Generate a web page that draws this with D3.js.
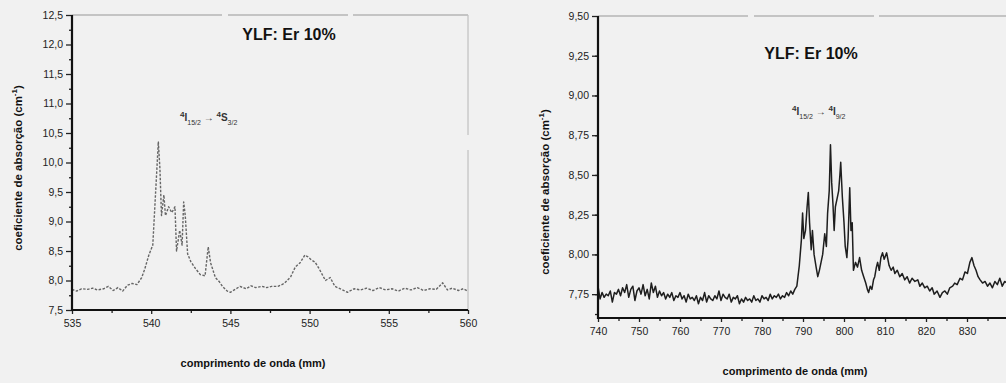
<!DOCTYPE html>
<html>
<head>
<meta charset="utf-8">
<script src="https://cdn.jsdelivr.net/npm/d3@7"></script>
<style>
  html, body { margin: 0; padding: 0; background: #f1f1f1; }
  svg { display: block; }
  text { font-family: "Liberation Sans", Arial, sans-serif; }
</style>
</head>
<body>
<svg id="chart" width="1006" height="383"></svg>
<script>
// ---------- DATA ----------
const title = "YLF: Er 10%";
const yLabel = "coeficiente de absorção (cm";
const xLabel = "comprimento de onda (mm)";

// Left panel: visible (green) region
const leftWavelength = [535.0,535.3,535.6,536.0,536.3,536.6,537.0,537.3,537.6,537.9,538.2,538.5,538.8,539.1,539.4,539.6,539.85,540.1,540.3,540.45,540.55,540.65,540.8,540.9,541.1,541.3,541.5,541.6,541.8,541.95,542.05,542.15,542.3,542.5,542.8,543.1,543.4,543.6,543.75,544.05,544.3,544.5,544.8,545.0,545.3,545.6,546.0,546.3,546.6,547.0,547.3,547.6,548.0,548.4,548.8,549.1,549.4,549.7,549.9,550.1,550.35,550.6,551.0,551.3,551.6,552.0,552.4,552.8,553.2,553.6,554.0,554.4,554.8,555.2,555.6,556.0,556.4,556.8,557.2,557.6,558.0,558.4,558.7,559.0,559.4,559.7,560.0];
const leftAbsorption = [7.85,7.82,7.86,7.85,7.87,7.84,7.86,7.90,7.83,7.88,7.82,7.92,7.95,7.93,8.05,8.20,8.43,8.60,9.60,10.35,9.90,9.10,9.45,9.10,9.25,9.15,9.25,8.50,8.85,8.60,9.33,9.10,8.45,8.32,8.20,8.10,8.08,8.57,8.30,8.05,7.98,7.90,7.82,7.80,7.85,7.90,7.86,7.91,7.88,7.90,7.88,7.90,7.90,7.95,8.06,8.23,8.30,8.43,8.40,8.35,8.31,8.20,8.00,8.05,7.90,7.85,7.80,7.86,7.84,7.87,7.83,7.88,7.84,7.86,7.82,7.87,7.84,7.88,7.83,7.86,7.85,7.96,7.84,7.87,7.83,7.86,7.82];
const leftXTicks = [535,540,545,550,555,560];
const leftYTicks = [7.5,8.0,8.5,9.0,9.5,10.0,10.5,11.0,11.5,12.0,12.5];

// Right panel: near-infrared region
const rightWavelength = [740,740.5,741,741.5,742,742.5,743,743.5,744,744.5,745,745.5,746,746.5,747,747.5,748,748.5,749,749.5,750,750.5,751,751.5,752,752.5,753,753.5,754,754.5,755,755.5,756,756.5,757,757.5,758,758.5,759,759.5,760,760.5,761,761.5,762,762.5,763,763.5,764,764.5,765,765.5,766,766.5,767,767.5,768,768.5,769,769.5,770,770.5,771,771.5,772,772.5,773,773.5,774,774.5,775,775.5,776,776.5,777,777.5,778,778.5,779,779.5,780,780.5,781,781.5,782,782.5,783,783.5,784,784.5,785,785.5,786,786.5,787,787.5,788,788.5,789.1,789.6,789.9,790.2,790.6,791.0,791.3,791.6,792.0,792.3,792.7,793.2,793.6,794.0,794.4,794.8,795.3,795.7,796.0,796.4,796.7,797.0,797.3,797.6,797.9,798.3,798.7,799.0,799.2,799.6,800.0,800.3,800.7,801.0,801.4,801.7,802.0,802.3,802.8,803.3,803.8,804.3,804.8,805.3,805.7,806.0,806.4,806.8,807.2,807.5,807.9,808.2,808.6,809.0,809.4,809.8,810.4,811.0,811.5,812.0,812.4,813.0,813.6,814.2,814.8,815.4,816.0,816.6,817.3,818.0,818.5,819.1,819.7,820.3,820.9,821.5,822.0,822.7,823.4,824.0,824.6,825.2,825.8,826.5,827.0,827.6,828.3,828.9,829.5,830.1,830.7,831.2,831.7,832.2,832.7,833.2,833.8,834.4,835.0,835.6,836.2,836.8,837.4,838.0,838.6,839.2,839.8];
const rightAbsorption = [7.80,7.72,7.76,7.73,7.75,7.74,7.77,7.70,7.76,7.75,7.78,7.74,7.79,7.76,7.81,7.73,7.78,7.80,7.71,7.77,7.79,7.75,7.81,7.74,7.78,7.72,7.82,7.76,7.80,7.73,7.77,7.74,7.76,7.72,7.75,7.73,7.76,7.71,7.74,7.73,7.76,7.72,7.74,7.70,7.75,7.72,7.73,7.71,7.74,7.69,7.73,7.71,7.76,7.70,7.74,7.72,7.71,7.74,7.72,7.77,7.71,7.75,7.73,7.72,7.75,7.70,7.73,7.72,7.74,7.69,7.72,7.70,7.73,7.71,7.72,7.70,7.74,7.71,7.72,7.70,7.74,7.72,7.73,7.71,7.75,7.72,7.74,7.73,7.75,7.72,7.74,7.73,7.76,7.74,7.77,7.75,7.78,7.80,7.93,8.09,8.26,8.10,8.15,8.30,8.39,8.20,8.03,8.15,8.00,7.92,7.86,7.90,7.95,8.00,8.13,8.05,8.26,8.40,8.69,8.45,8.32,8.15,8.30,8.35,8.40,8.50,8.58,8.36,8.20,8.05,7.98,8.10,8.42,8.15,8.20,7.90,7.95,7.92,7.98,7.90,7.86,7.82,7.78,7.76,7.80,7.78,7.84,7.86,7.92,7.95,7.90,7.98,8.01,7.97,8.01,7.93,7.90,7.92,7.88,7.90,7.86,7.88,7.84,7.86,7.82,7.85,7.83,7.84,7.80,7.82,7.79,7.80,7.77,7.79,7.75,7.77,7.73,7.76,7.77,7.75,7.79,7.80,7.82,7.81,7.85,7.84,7.89,7.88,7.95,7.98,7.93,7.90,7.86,7.84,7.82,7.83,7.80,7.82,7.79,7.83,7.81,7.85,7.80,7.83,7.82];
const rightXTicks = [740,750,760,770,780,790,800,810,820,830];
const rightYTicks = [7.75,8.00,8.25,8.50,8.75,9.00,9.25,9.50];

// ---------- DRAW ----------
const svg = d3.select("#chart");
const commaFmt = d => d3.format(".1f")(d).replace(".", ",");
const comma2Fmt = d => d3.format(".2f")(d).replace(".", ",");

function panel(cfg) {
  const g = svg.append("g");
  const x = d3.scaleLinear().domain(cfg.xDomain).range([cfg.left, cfg.right]);
  const y = d3.scaleLinear().domain(cfg.yDomain).range([cfg.bottom, cfg.top]);

  // frame top/right (faint)
  g.append("line").attr("x1", cfg.left).attr("x2", cfg.right).attr("y1", cfg.top).attr("y2", cfg.top)
    .attr("stroke", "#b5b5b5").attr("stroke-width", 1.3).attr("stroke-dasharray", "150,6,120,5,200");
  g.append("line").attr("x1", cfg.right).attr("x2", cfg.right).attr("y1", cfg.top).attr("y2", cfg.bottom)
    .attr("stroke", "#c0c0c0").attr("stroke-width", 1.2).attr("stroke-dasharray", "120,15,300");

  // minor ticks
  g.append("g").attr("transform", `translate(0,${cfg.bottom})`)
    .call(d3.axisBottom(x).tickValues(cfg.xMinor).tickSize(3).tickFormat(""))
    .call(s => s.select(".domain").remove())
    .selectAll("line").attr("stroke", "#222").attr("stroke-width", 1.3);
  g.append("g").attr("transform", `translate(${cfg.left},0)`)
    .call(d3.axisLeft(y).tickValues(cfg.yMinor).tickSize(3).tickFormat(""))
    .call(s => s.select(".domain").remove())
    .selectAll("line").attr("stroke", "#222").attr("stroke-width", 1.3);

  // major ticks
  const xa = g.append("g").attr("transform", `translate(0,${cfg.bottom})`)
    .call(d3.axisBottom(x).tickValues(cfg.xTicks).tickSize(4).tickPadding(6).tickFormat(d3.format("d")));
  xa.select(".domain").remove();
  xa.selectAll("line").attr("stroke", "#222").attr("stroke-width", 1.3);
  xa.selectAll("text").attr("font-size", 10.5).attr("fill", "#222").attr("font-family", "Liberation Sans, Arial, sans-serif");

  const ya = g.append("g").attr("transform", `translate(${cfg.left},0)`)
    .call(d3.axisLeft(y).tickValues(cfg.yTicks).tickSize(6).tickPadding(3).tickFormat(cfg.yFmt));
  ya.select(".domain").remove();
  ya.selectAll("line").attr("stroke", "#222").attr("stroke-width", 1.3);
  ya.selectAll("text").attr("font-size", 10.5).attr("fill", "#222").attr("font-family", "Liberation Sans, Arial, sans-serif");

  // data line
  const pts = cfg.xs.map((v, i) => [v, cfg.ys[i]]);
  g.append("path").datum(pts)
    .attr("fill", "none")
    .attr("stroke", cfg.lineColor)
    .attr("stroke-width", cfg.lineWidth)
    .attr("stroke-dasharray", cfg.dash || null)
    .attr("stroke-linejoin", "round")
    .attr("d", d3.line().x(d => x(d[0])).y(d => y(d[1])));

  // axis lines (thick)
  g.append("line").attr("x1", cfg.left).attr("x2", cfg.left).attr("y1", cfg.top).attr("y2", cfg.bottom + 1)
    .attr("stroke", "#111").attr("stroke-width", 2.2);
  g.append("line").attr("x1", cfg.left - 1).attr("x2", cfg.right).attr("y1", cfg.bottom).attr("y2", cfg.bottom)
    .attr("stroke", "#111").attr("stroke-width", 2.2);

  // title
  g.append("text").attr("x", cfg.titleX).attr("y", cfg.titleY).attr("text-anchor", "middle")
    .attr("font-size", 16).attr("font-weight", "bold").attr("fill", "#111").text(title);

  // axis labels
  g.append("text").attr("x", cfg.xLabelX).attr("y", cfg.xLabelY).attr("text-anchor", "middle")
    .attr("font-size", 11).attr("font-weight", "bold").attr("fill", "#111").text(xLabel);
  const yl = g.append("text")
    .attr("transform", `translate(${cfg.yLabelX},${cfg.yLabelY}) rotate(-90)`)
    .attr("text-anchor", "middle").attr("font-size", 11.5).attr("font-weight", "bold").attr("fill", "#111");
  yl.append("tspan").text(yLabel);
  yl.append("tspan").attr("dy", -5).attr("font-size", 8).text("-1");
  yl.append("tspan").attr("dy", 5).text(")");

  // transition annotation
  const an = g.append("text").attr("x", cfg.annX).attr("y", cfg.annY)
    .attr("font-size", 10).attr("fill", "#333").attr("font-weight", "bold");
  an.append("tspan").attr("font-size", 8).attr("dy", -4).text("4");
  an.append("tspan").attr("dy", 4).text("I");
  an.append("tspan").attr("font-size", 7).attr("dy", 4).attr("font-weight", "normal").text("15/2");
  an.append("tspan").attr("dy", -4).text(" \u2192 ");
  an.append("tspan").attr("font-size", 8).attr("dy", -4).text("4");
  an.append("tspan").attr("dy", 4).text(cfg.annLevel);
  an.append("tspan").attr("font-size", 7).attr("dy", 4).attr("font-weight", "normal").text(cfg.annSub);
}

panel({
  xDomain: [535, 560], yDomain: [7.5, 12.5],
  left: 72, right: 468, top: 15, bottom: 310,
  xTicks: leftXTicks, yTicks: leftYTicks,
  xMinor: [537.5, 542.5, 547.5, 552.5, 557.5],
  yMinor: d3.range(7.75, 12.5, 0.5),
  yFmt: commaFmt,
  xs: leftWavelength, ys: leftAbsorption,
  lineColor: "#666", lineWidth: 1.4, dash: "2.5,1.5",
  titleX: 289, titleY: 40,
  xLabelX: 253, xLabelY: 367,
  yLabelX: 22, yLabelY: 168,
  annX: 180, annY: 121, annLevel: "S", annSub: "3/2"
});

panel({
  xDomain: [740, 840], yDomain: [7.6, 9.5],
  left: 598, right: 1008, top: 16, bottom: 318,
  xTicks: rightXTicks, yTicks: rightYTicks,
  xMinor: [745, 755, 765, 775, 785, 795, 805, 815, 825, 835],
  yMinor: d3.range(7.625, 9.5, 0.125).filter((d, i) => i % 2 === 1).concat([7.625]),
  yFmt: comma2Fmt,
  xs: rightWavelength, ys: rightAbsorption,
  lineColor: "#1e1e1e", lineWidth: 1.5, dash: null,
  titleX: 811, titleY: 59,
  xLabelX: 795, xLabelY: 375,
  yLabelX: 549, yLabelY: 192,
  annX: 792, annY: 115, annLevel: "I", annSub: "9/2"
});
</script>
</body>
</html>
